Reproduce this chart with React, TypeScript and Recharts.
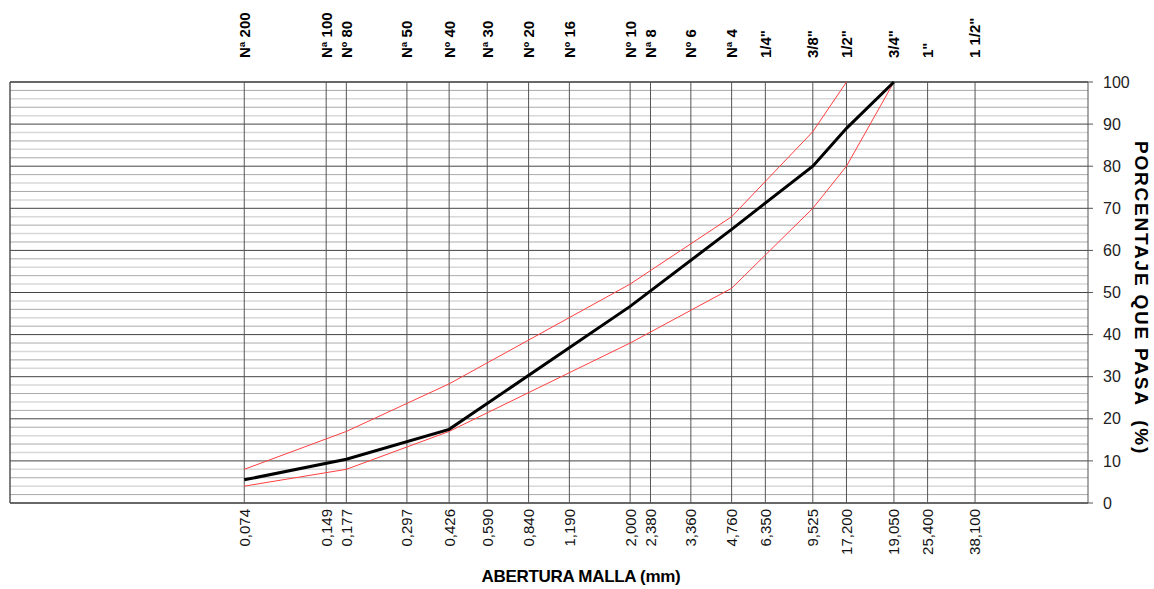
import { LineChart, Line, XAxis, YAxis, ReferenceLine } from "recharts";

// sieve openings (mm) where the vertical grid lines sit
const sieveMm = [0.074, 0.149, 0.177, 0.297, 0.426, 0.59, 0.84, 1.19, 2.0, 2.38, 3.36, 4.76, 6.35, 9.525, 12.7, 19.05, 25.4, 38.1];
const sieveNames = ["Nª 200", "Nª 100", "Nº 80", "Nª 50", "Nº 40", "Nª 30", "Nº 20", "Nº 16", "Nº 10", "Nª 8", "Nº 6", "Nª 4", "1/4\"", "3/8\"", "1/2\"", "3/4\"", "1\"", "1 1/2\""];
const openingLabels = ["0,074", "0,149", "0,177", "0,297", "0,426", "0,590", "0,840", "1,190", "2,000", "2,380", "3,360", "4,760", "6,350", "9,525", "17,200", "19,050", "25,400", "38,100"];

// curve points
const pointMm = [0.074, 0.177, 0.426, 2.0, 4.76, 9.525, 12.7, 19.05];
const passing = [5.5, 10.4, 17.5, 46.7, 65, 80, 89, 100];
const upperLimit = [8, 17, 28.3, 52, 68, 88.2, 100, null];
const lowerLimit = [4, 8, 17, 38, 51, 70, 80, 100];

const yTicks = [0, 10, 20, 30, 40, 50, 60, 70, 80, 90, 100];
const minorY = Array.from({ length: 51 }, (_, i) => i * 2);

const data = pointMm.map((mm, i) => ({
  mm,
  passing: passing[i],
  upper: upperLimit[i],
  lower: lowerLimit[i],
}));

const FONT = "'Liberation Sans', Arial, sans-serif";

const labelFor = (arr: string[], v: number) => arr[sieveMm.indexOf(v)] ?? "";

const TopTick = (props: any) => {
  const { x, y, payload } = props;
  const ty = y - 22;
  return (
    <text
      x={x}
      y={ty}
      transform={`rotate(-90 ${x} ${ty})`}
      textAnchor="start"
      dy="0.36em"
      fontFamily={FONT}
      fontSize={15}
      fontWeight="bold"
      fill="#000"
    >
      {labelFor(sieveNames, payload.value)}
    </text>
  );
};

const BottomTick = (props: any) => {
  const { x, y, payload } = props;
  const ty = y + 4;
  return (
    <text
      x={x}
      y={ty}
      transform={`rotate(-90 ${x} ${ty})`}
      textAnchor="end"
      dy="0.36em"
      fontFamily={FONT}
      fontSize={15}
      fill="#111"
    >
      {labelFor(openingLabels, payload.value)}
    </text>
  );
};

export default function App() {
  return (
    <div style={{ position: "absolute", left: 0, top: 0, width: 1154, height: 589, background: "#fff" }}>
      <LineChart
        width={1154}
        height={589}
        data={data}
        margin={{ top: 12, right: 26, bottom: 26, left: 10 }}
      >
        <XAxis
          xAxisId="top"
          orientation="top"
          dataKey="mm"
          type="number"
          scale="log"
          domain={[0.01, 100]}
          ticks={sieveMm}
          interval={0}
          allowDataOverflow
          height={70}
          axisLine={false}
          tickLine={false}
          tickSize={0}
          tick={<TopTick />}
        />
        <XAxis
          xAxisId="bottom"
          orientation="bottom"
          dataKey="mm"
          type="number"
          scale="log"
          domain={[0.01, 100]}
          ticks={sieveMm}
          interval={0}
          allowDataOverflow
          height={60}
          axisLine={false}
          tickLine={false}
          tickSize={0}
          tick={<BottomTick />}
        />
        <YAxis
          yAxisId="right"
          orientation="right"
          type="number"
          domain={[0, 100]}
          ticks={yTicks}
          interval={0}
          width={40}
          axisLine={{ stroke: "#555" }}
          tickLine={{ stroke: "#555" }}
          tickSize={5}
          tickMargin={10}
          tick={{ fontFamily: FONT, fontSize: 16, fill: "#222", textAnchor: "start" }}
        />

        {minorY.map((v) => (
          <ReferenceLine
            key={`h${v}`}
            xAxisId="bottom"
            yAxisId="right"
            y={v}
            stroke={v % 10 === 0 ? "#444" : (v / 2) % 2 === 1 ? "#aaa" : "#d8d8d8"}
            strokeWidth={v % 10 === 0 ? 1 : (v / 2) % 2 === 1 ? 1 : 1.5}
          />
        ))}
        {sieveMm.map((v) => (
          <ReferenceLine key={`v${v}`} xAxisId="bottom" yAxisId="right" x={v} stroke="#555" />
        ))}
        <ReferenceLine xAxisId="bottom" yAxisId="right" x={0.01} stroke="#555" strokeWidth={1.5} />
        <ReferenceLine xAxisId="bottom" yAxisId="right" y={0} stroke="#555" strokeWidth={1.5} />
        <ReferenceLine xAxisId="bottom" yAxisId="right" y={100} stroke="#555" strokeWidth={1.5} />

        <Line
          xAxisId="bottom"
          yAxisId="right"
          dataKey="upper"
          stroke="#ff4040"
          strokeWidth={1}
          dot={false}
          isAnimationActive={false}
        />
        <Line
          xAxisId="bottom"
          yAxisId="right"
          dataKey="lower"
          stroke="#ff4040"
          strokeWidth={1}
          dot={false}
          isAnimationActive={false}
        />
        <Line
          xAxisId="bottom"
          yAxisId="right"
          dataKey="passing"
          stroke="#000"
          strokeWidth={3}
          dot={false}
          isAnimationActive={false}
        />
      </LineChart>
      <div
        style={{
          position: "absolute",
          left: 581,
          top: 577,
          transform: "translate(-50%, -50%)",
          fontFamily: FONT,
          fontWeight: "bold",
          fontSize: 17,
          whiteSpace: "nowrap",
          letterSpacing: -0.3,
        }}
      >
        ABERTURA MALLA (mm)
      </div>
      <div
        style={{
          position: "absolute",
          left: 1141,
          top: 298,
          transform: "translate(-50%, -50%) rotate(90deg)",
          fontFamily: FONT,
          fontWeight: "bold",
          fontSize: 19,
          whiteSpace: "pre",
          letterSpacing: 1.8,
        }}
      >
        {"PORCENTAJE QUE PASA  (%)"}
      </div>
    </div>
  );
}
